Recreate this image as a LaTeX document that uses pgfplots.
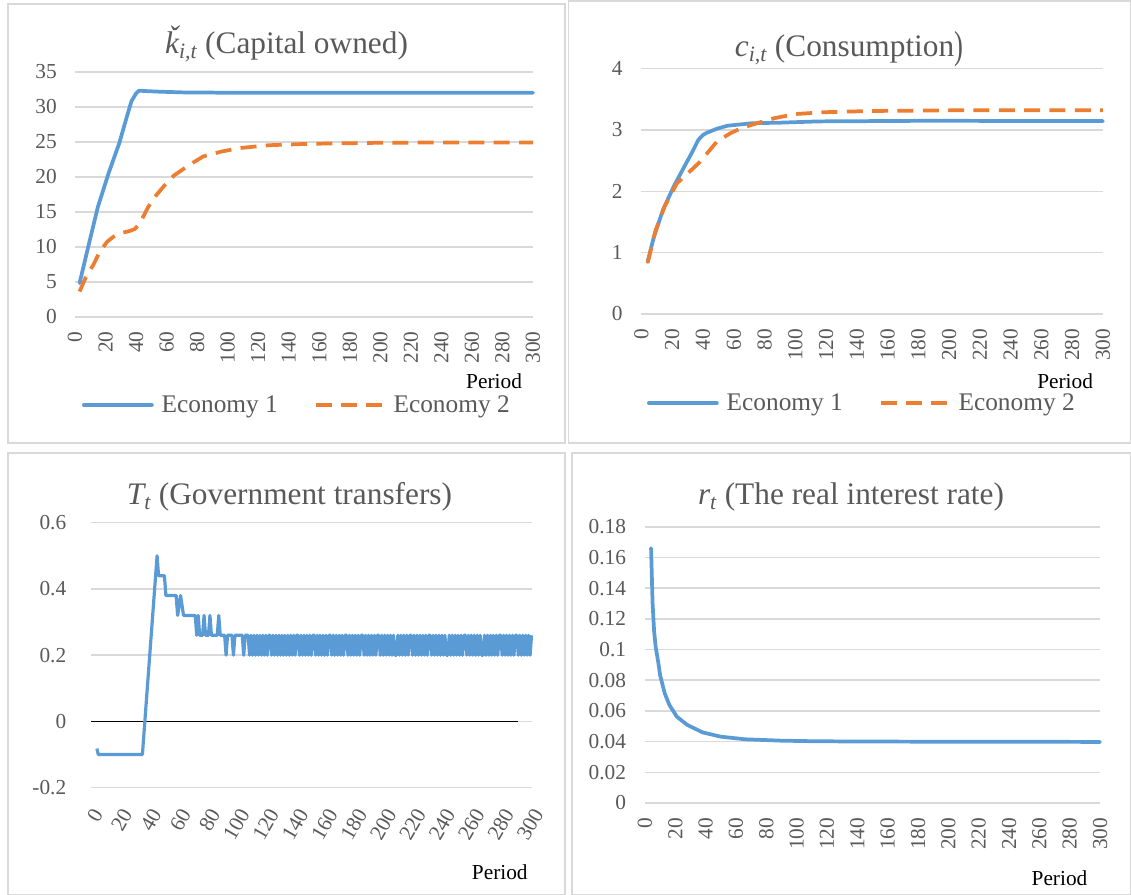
\documentclass[border=0pt]{standalone}
\usepackage{fontspec}
\setmainfont{Liberation Serif}
\usepackage{graphicx}
\usepackage{pgfplots}
\pgfplotsset{compat=1.18}
\definecolor{eblue}{HTML}{5B9BD5}
\definecolor{eorange}{HTML}{ED7D31}
\definecolor{gridc}{HTML}{D9D9D9}
\definecolor{txt}{HTML}{595959}
\pgfplotsset{
  panel/.style={
    scale only axis, anchor=south west,
    axis x line*=bottom, axis y line*=left,
    axis line style={draw=none},
    major tick length=0pt,
    xmin=0, xmax=300,
    xtick={0,20,...,300},
    ymajorgrids,
    grid style={gridc, line width=1.2pt},
    tick label style={font=\fontsize{16}{16}\selectfont, text=txt},
    /pgf/number format/assume math mode=true,
    /pgf/number format/fixed, /pgf/number format/precision=2,
    yticklabel style={anchor=east, inner sep=0pt},
    xlabel={Period},
    xlabel style={font=\fontsize{16}{16}\selectfont, text=black, anchor=base},
    clip=false,
    legend image code/.code={\draw[#1] (0pt,0pt) -- (51pt,0pt);},
  },
  vert/.style={xticklabel style={rotate=90, anchor=east, inner sep=0pt}},
  leg/.style={
    legend columns=2,
    legend style={draw=none, fill=none, inner sep=0pt, outer sep=0pt,
      nodes={inner sep=0pt}, font=\fontsize{19}{19}\selectfont, text=txt,
      /tikz/every odd column/.append style={column sep=6pt},
      /tikz/every even column/.append style={column sep=27pt}},
  },
}
\begin{document}
\begin{tikzpicture}
\useasboundingbox (0,0) rectangle (848.25pt,671.25pt);
% panel frames
\draw[gridc, line width=1.1pt] (6pt,339pt) rectangle (423.75pt,668.25pt);
\draw[gridc, line width=1.1pt] (426.4pt,339pt) rectangle (847.9pt,670.5pt);
\draw[gridc, line width=1.1pt] (6pt,0.5pt) rectangle (423.75pt,331.5pt);
\draw[gridc, line width=1.1pt] (429pt,0.5pt) rectangle (847.9pt,331.5pt);

% Panel 1: capital
\begin{axis}[panel, vert, leg, at={(56.25pt,433.7pt)}, width=343.5pt, height=183.75pt,
  ymin=0, ymax=35, ytick={0,5,10,15,20,25,30,35},
  xticklabel shift=11pt, yticklabel shift=13.5pt,
  xlabel style={at={(axis description cs:0.915,-0.291)}},
  legend style={at={(axis description cs:0.0153,-0.36)}, anchor=west}]
\addplot[eblue, line width=2.8pt, line cap=round, line join=round] coordinates {
(3,4.8)(9,10.3)(15,15.7)(22,20.5)(29,24.8)(34,28.6)(37,30.8)(40,31.9)(42,32.3)(45,32.25)(55,32.15)(70,32.05)(100,32.0)(150,32.0)(200,32.0)(250,32.0)(300,32.0)};
\addlegendentry{Economy 1}
\addplot[eorange, line width=2.8pt, dash pattern=on 12pt off 7pt, line join=round] coordinates {
(3,3.6)(7,5.6)(12,7.4)(16,9.2)(21,10.7)(25,11.4)(29,11.9)(35,12.2)(39,12.5)(42,13.2)(44,14.0)(48,15.7)(53,17.3)(58,18.6)(65,20.2)(75,21.7)(84,22.9)(96,23.6)(108,24.1)(127,24.5)(153,24.7)(200,24.85)(250,24.9)(300,24.9)};
\addlegendentry{Economy 2}
\end{axis}

% Panel 2: consumption
\begin{axis}[panel, vert, leg, at={(481.1pt,435.75pt)}, width=346.1pt, height=184pt,
  ymin=0, ymax=4, ytick={0,1,2,3,4},
  xticklabel shift=11pt, yticklabel shift=14pt,
  xlabel style={at={(axis description cs:0.918,-0.302)}},
  legend style={at={(axis description cs:0.012,-0.363)}, anchor=west}]
\addplot[eblue, line width=2.8pt, line cap=round, line join=round] coordinates {
(4,0.85)(8,1.25)(14,1.70)(21,2.08)(28,2.41)(33,2.64)(37,2.84)(40,2.92)(43,2.96)(49,3.02)(56,3.07)(72,3.11)(91,3.12)(115,3.14)(185,3.15)(300,3.145)};
\addlegendentry{Economy 1}
\addplot[eorange, line width=2.8pt, dash pattern=on 12pt off 7pt, line join=round] coordinates {
(4,0.83)(9,1.35)(15,1.75)(23,2.13)(30,2.29)(38,2.48)(44,2.66)(49,2.81)(58,2.95)(65,3.03)(75,3.11)(86,3.19)(100,3.26)(119,3.29)(150,3.31)(200,3.32)(300,3.32)};
\addlegendentry{Economy 2}
\end{axis}

% Panel 3: transfers
\begin{axis}[panel, at={(68.25pt,80.5pt)}, width=330.4pt, height=198.75pt,
  ymin=-0.2, ymax=0.6, ytick={-0.2,0,0.2,0.4,0.6},
  xticklabel style={xshift=5pt, rotate=60, anchor=east, inner sep=0pt},
  xticklabel shift=17pt, yticklabel shift=18.4pt,
  xlabel style={at={(axis description cs:0.928,-0.348)}}]
\draw[black, line width=0.75pt] (axis cs:0,0) -- (axis cs:291,0);
\addplot[eblue, line width=2.4pt, line join=round] coordinates {
(4,-0.082)(5,-0.1)(35,-0.1)(45,0.5)(46,0.44)(50,0.44)(51,0.38)(58,0.38)(59,0.32)(61,0.38)(63,0.32)
(71,0.32)(72,0.26)(73,0.32)(74,0.26)(76,0.26)(77,0.32)(78,0.26)(80,0.26)(81,0.32)(82,0.26)(86,0.26)(87,0.32)(88,0.26)
(91,0.26)(92,0.2)(93,0.26)(96,0.26)(97,0.2)(98,0.26)(103,0.26)(104,0.2)(105,0.26)(107,0.26)
(108,0.2)(109,0.26)(110,0.2)(111,0.26)(112,0.2)(113,0.26)(114,0.2)(115,0.26)(116,0.2)(117,0.26)(118,0.2)(119,0.26)(120,0.2)(121,0.26)
(122,0.26)(123,0.2)
(124,0.26)(125,0.2)(126,0.26)(127,0.2)(128,0.26)(129,0.2)(130,0.26)(131,0.2)(132,0.26)(133,0.2)(134,0.26)(135,0.2)(136,0.26)(137,0.2)(138,0.26)(139,0.2)(140,0.26)
(141,0.26)(142,0.2)
(143,0.26)(144,0.2)(145,0.26)(146,0.2)(147,0.26)(148,0.2)(149,0.26)(150,0.2)(151,0.26)
(152,0.26)(153,0.2)
(154,0.26)(155,0.2)(156,0.26)(157,0.2)(158,0.26)(159,0.2)(160,0.26)(161,0.2)(162,0.26)
(163,0.26)(164,0.2)
(165,0.26)(166,0.2)(167,0.26)(168,0.2)(169,0.26)(170,0.2)(171,0.26)(172,0.2)(173,0.26)
(174,0.26)(175,0.2)
(176,0.26)(177,0.2)(178,0.26)(179,0.2)(180,0.26)(181,0.2)(182,0.26)(183,0.2)(184,0.26)
(185,0.26)(186,0.2)
(187,0.26)(188,0.2)(189,0.26)(190,0.2)(191,0.26)(192,0.2)(193,0.26)(194,0.2)(195,0.26)
(196,0.26)(197,0.2)
(198,0.26)(199,0.2)(200,0.26)(201,0.2)(202,0.26)(203,0.2)(204,0.26)(205,0.2)(206,0.26)
(207,0.2)(208,0.2)
(209,0.26)(210,0.2)(211,0.26)(212,0.2)(213,0.26)(214,0.2)(215,0.26)(216,0.2)(217,0.26)
(218,0.26)(219,0.2)
(220,0.26)(221,0.2)(222,0.26)(223,0.2)(224,0.26)(225,0.2)(226,0.26)(227,0.2)(228,0.26)(229,0.2)(230,0.26)
(231,0.26)(232,0.2)
(233,0.26)(234,0.2)(235,0.26)(236,0.2)(237,0.26)(238,0.2)(239,0.26)(240,0.2)(241,0.26)
(242,0.2)(243,0.2)
(244,0.26)(245,0.2)(246,0.26)(247,0.2)(248,0.26)(249,0.2)(250,0.26)(251,0.2)(252,0.26)(253,0.2)(254,0.26)
(255,0.26)(256,0.2)
(257,0.26)(258,0.2)(259,0.26)(260,0.2)(261,0.26)(262,0.2)(263,0.26)(264,0.2)(265,0.26)
(266,0.2)(267,0.2)
(268,0.26)(269,0.2)(270,0.26)(271,0.2)(272,0.26)(273,0.2)(274,0.26)(275,0.2)(276,0.26)(277,0.2)(278,0.26)
(279,0.26)(280,0.2)
(281,0.26)(282,0.2)(283,0.26)(284,0.2)(285,0.26)(286,0.2)(287,0.26)(288,0.2)(289,0.26)
(290,0.26)(291,0.2)
(292,0.26)(293,0.2)(294,0.26)(295,0.2)(296,0.26)(297,0.2)(298,0.26)(299,0.2)(300,0.26)};
\end{axis}

% Panel 4: interest rate
\begin{axis}[panel, vert, at={(483.75pt,69pt)}, width=341.25pt, height=207.2pt,
  ymin=0, ymax=0.18, ytick={0,0.02,0.04,0.06,0.08,0.1,0.12,0.14,0.16,0.18},
  xticklabel shift=11pt, yticklabel shift=14pt,
  xlabel style={at={(axis description cs:0.911,-0.297)}}]
\addplot[eblue, line width=2.8pt, line cap=round, line join=round] coordinates {
(4,0.166)(5,0.13)(6,0.112)(7,0.102)(9,0.09)(10,0.083)(13,0.0715)(16,0.064)(21,0.0562)(28,0.0508)(38,0.046)(50,0.0432)(66,0.0415)(90,0.0406)(114,0.0402)(162,0.0400)(300,0.0398)};
\end{axis}

% titles
\begin{scope}[every node/.style={anchor=base, font=\fontsize{23.5}{24}\selectfont, text=txt, inner sep=0pt}]
\node at (214.9pt,631.3pt) {{\itshape\v{k}}\textsubscript{\itshape i,t} (Capital owned)};
\node at (636.75pt,628.5pt) {{\itshape c}\textsubscript{\itshape i,t} (Consumption\raisebox{-0.05em}{\scalebox{0.85}[1.25]{)}}};
\node at (217.1pt,293pt) {{\itshape T}\textsubscript{\itshape t} (Government transfers)};
\node at (638.25pt,293pt) {{\itshape r}\textsubscript{\itshape t} (The real interest rate)};
\end{scope}
\end{tikzpicture}
\end{document}
